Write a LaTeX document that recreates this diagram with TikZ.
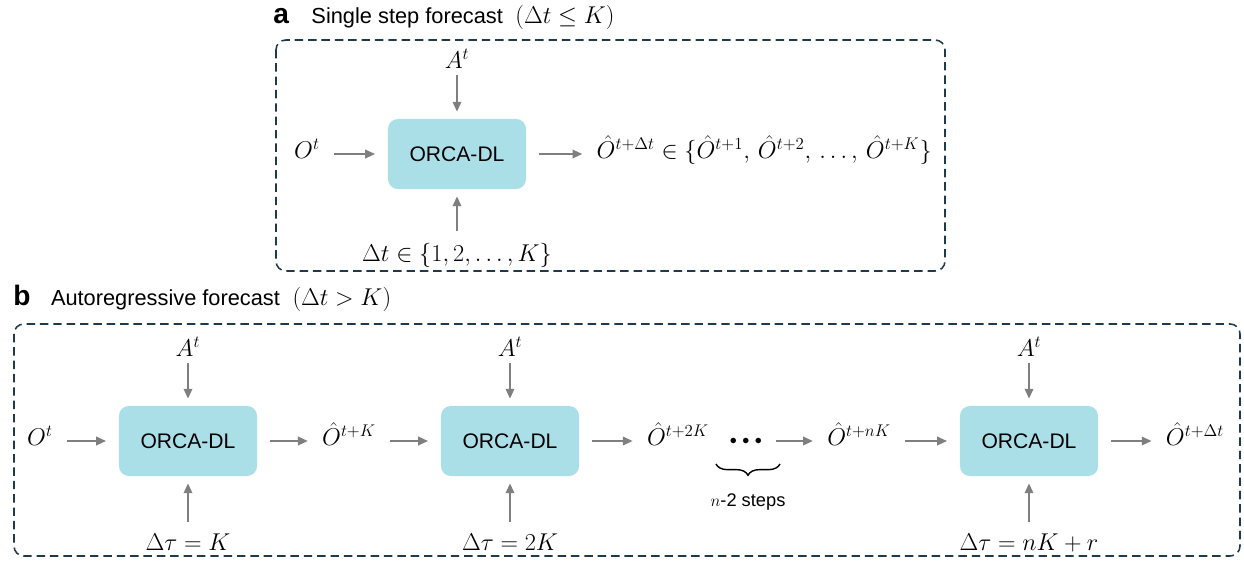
\documentclass[tikz,border=0pt]{standalone}
\usepackage[no-math]{fontspec}
\setmainfont{Liberation Sans}
\usetikzlibrary{positioning,arrows.meta,decorations.pathreplacing}
\definecolor{orcafill}{HTML}{AADFE8}
\definecolor{framecol}{HTML}{1E3A4C}
\definecolor{arrgray}{HTML}{7F7F7F}
\newcommand{\Oh}{{\hat{O}}}
\tikzset{
    model/.style={fill=orcafill, rounded corners=7pt, minimum width=3.45cm, minimum height=1.75cm,
        font=\fontsize{15}{18}\selectfont},
    var/.style={font=\fontsize{17}{20}\selectfont, inner sep=1pt},
    rowvar/.style={var, text height=1em, text depth=0.32em},
    arr/.style={draw=arrgray, line width=1.4pt, -{Triangle[length=7pt,width=6pt]}},
    harr/.style={arr, shorten <=9pt, shorten >=9pt},
    downarr/.style={arr, shorten <=4pt, shorten >=5pt},
    uparr/.style={arr, shorten <=7pt, shorten >=5pt},
    panel/.style={draw=framecol, line width=1.1pt, dash pattern=on 6pt off 3.5pt, rounded corners=7pt},
    tag/.style={font=\bfseries\fontsize{20}{22}\selectfont, inner sep=0pt, anchor=base west},
    ttl/.style={font=\fontsize{15.5}{18}\selectfont, inner sep=0pt},
    ttlmath/.style={font=\fontsize{18}{20}\selectfont, inner sep=0pt},
    brace/.style={decorate, decoration={brace, mirror, amplitude=8pt}, line width=1pt},
}
\begin{document}
\begin{tikzpicture}[x=0.025cm, y=-0.025cm]
    \useasboundingbox (0,0) rectangle (1244,560);

    % a: single step
    \draw[panel] (276,40) rectangle (945,271);
    \node[tag] (taga) at (273,23) {a};
    \node[ttl, base right=0.55cm of taga] (txta) {Single step forecast};
    \node[ttlmath, base right=0.3cm of txta] (mtha) {$(\Delta t \le K)$};

    \node[model] (orcaa) at (457,154) {ORCA-DL};
    \node[var, anchor=base] (ata) at (457,68) {$A^t$};
    \node[var, anchor=base] (dta) at (457,261) {$\Delta t \in \{1, 2, \dots, K\}$};
    \node[rowvar] (ota) at (307,154) {$O^t$};
    \node[rowvar, anchor=west] (outa) at (595,154)
        {$\Oh^{t+\Delta t} \in \{\Oh^{t+1},\,\Oh^{t+2},\,\dots,\,\Oh^{t+K}\}$};
    \draw[downarr] (ata) -- (orcaa);
    \draw[uparr] (dta) -- (orcaa);
    \draw[harr] (ota) -- (orcaa);
    \draw[harr] (orcaa) -- (outa);

    % b: autoregressive
    \draw[panel] (14,324) rectangle (1240,556);
    \node[tag] (tagb) at (13,305) {b};
    \node[ttl, base right=0.5cm of tagb] (txtb) {Autoregressive forecast};
    \node[ttlmath, base right=0.3cm of txtb] (mthb) {$(\Delta t > K)$};

    \foreach \x/\lab/\nm in {188/K/1, 510/2K/2, 1029/nK+r/3} {
        \node[model] (orca\nm) at (\x,441) {ORCA-DL};
        \node[var, anchor=base] (at\nm) at (\x,356) {$A^t$};
        \node[var, anchor=base] (dtau\nm) at (\x,550) {$\Delta\tau = \lab$};
        \draw[downarr] (at\nm) -- (orca\nm);
        \draw[uparr] (dtau\nm) -- (orca\nm);
    }

    \node[rowvar] (otb) at (40,441) {$O^t$};
    \node[rowvar] (ohk) at (349,441) {$\Oh^{t+K}$};
    \node[rowvar] (oh2k) at (678,441) {$\Oh^{t+2K}$};
    \node[font=\fontsize{10}{10}\selectfont, text height=0.5em, text depth=0pt, inner sep=1pt]
        (dots) at (746,441) {$\bullet\,\bullet\,\bullet$};
    \node[rowvar] (ohnk) at (859,441) {$\Oh^{t+nK}$};
    \node[rowvar] (ohdt) at (1195,441) {$\Oh^{t+\Delta t}$};

    \draw[harr] (otb) -- (orca1);
    \draw[harr] (orca1) -- (ohk);
    \draw[harr] (ohk) -- (orca2);
    \draw[harr] (orca2) -- (oh2k);
    \draw[harr] (dots) -- (ohnk);
    \draw[harr] (ohnk) -- (orca3);
    \draw[harr] (orca3) -- (ohdt);

    \draw[brace] (716,464) -- (780,464);
    \node[font=\fontsize{13}{15}\selectfont] (steps) at (748,502) {$n$-2 steps};
\end{tikzpicture}
\end{document}
